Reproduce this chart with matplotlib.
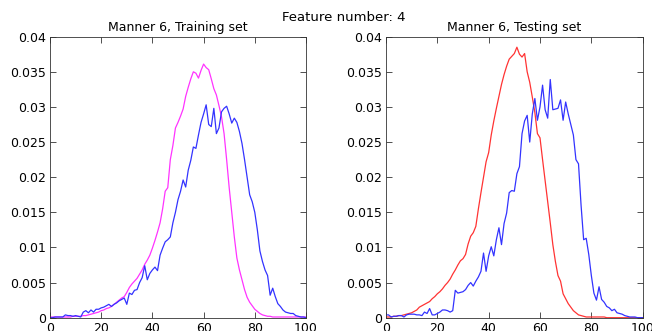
import numpy as np
import matplotlib
matplotlib.use("Agg")
import matplotlib.pyplot as plt

# histogram bins, 0..100
bins = np.arange(0, 101)

train_model = [
    0.0001, 0.0001, 0.0001, 0.0001, 0.0001, 0.0001, 0.0001, 0.0001, 0.0001, 0.0002,
    0.0002, 0.0002, 0.0002, 0.0003, 0.0003, 0.0004, 0.0005, 0.0006, 0.0007, 0.0008,
    0.0010, 0.0011, 0.0013, 0.0014, 0.0016, 0.0019, 0.0022, 0.0025, 0.0028, 0.0030,
    0.0036, 0.0043, 0.0048, 0.0052, 0.0056, 0.0062, 0.0068, 0.0076, 0.0082, 0.0089,
    0.0099, 0.0110, 0.0122, 0.0135, 0.0155, 0.0180, 0.0185, 0.0225, 0.0245, 0.0270,
    0.0278, 0.0287, 0.0297, 0.0315, 0.0328, 0.0340, 0.0350, 0.0348, 0.0341, 0.0352,
    0.0361, 0.0356, 0.0353, 0.0340, 0.0326, 0.0317, 0.0302, 0.0286, 0.0262, 0.0225,
    0.0185, 0.0150, 0.0115, 0.0085, 0.0068, 0.0054, 0.0040, 0.0029, 0.0022, 0.0017,
    0.0012, 0.0009, 0.0006, 0.0004, 0.0003, 0.0002, 0.0002, 0.0001, 0.0001, 0.0001,
    0.0001, 0.0001, 0.0001, 0.0001, 0.0001, 0.0001, 0.0001, 0.0001, 0.0001, 0.0001,
    0.0001,
]

train_data = [
    0.0000, 0.0000, 0.0001, 0.0001, 0.0001, 0.0001, 0.0004, 0.0003, 0.0003, 0.0002,
    0.0003, 0.0002, 0.0001, 0.0008, 0.0010, 0.0007, 0.0011, 0.0008, 0.0012, 0.0012,
    0.0014, 0.0015, 0.0017, 0.0019, 0.0016, 0.0019, 0.0021, 0.0024, 0.0026, 0.0028,
    0.0019, 0.0035, 0.0033, 0.0039, 0.0040, 0.0050, 0.0057, 0.0074, 0.0054, 0.0063,
    0.0068, 0.0072, 0.0067, 0.0089, 0.0099, 0.0108, 0.0111, 0.0115, 0.0135, 0.0150,
    0.0168, 0.0180, 0.0196, 0.0186, 0.0210, 0.0224, 0.0243, 0.0241, 0.0260, 0.0278,
    0.0290, 0.0303, 0.0275, 0.0272, 0.0298, 0.0262, 0.0270, 0.0293, 0.0298, 0.0301,
    0.0290, 0.0277, 0.0284, 0.0278, 0.0265, 0.0248, 0.0225, 0.0200, 0.0175, 0.0165,
    0.0150, 0.0125, 0.0095, 0.0080, 0.0068, 0.0060, 0.0032, 0.0042, 0.0030, 0.0020,
    0.0016, 0.0011, 0.0008, 0.0007, 0.0006, 0.0006, 0.0003, 0.0002, 0.0001, 0.0001,
    0.0000,
]

test_model = [
    0.0001, 0.0001, 0.0001, 0.0002, 0.0002, 0.0003, 0.0003, 0.0004, 0.0005, 0.0006,
    0.0007, 0.0009, 0.0011, 0.0015, 0.0017, 0.0019, 0.0021, 0.0023, 0.0027, 0.0030,
    0.0034, 0.0037, 0.0041, 0.0046, 0.0050, 0.0055, 0.0062, 0.0068, 0.0075, 0.0081,
    0.0084, 0.0090, 0.0105, 0.0116, 0.0121, 0.0130, 0.0155, 0.0178, 0.0200, 0.0222,
    0.0235, 0.0260, 0.0280, 0.0298, 0.0315, 0.0332, 0.0346, 0.0358, 0.0368, 0.0372,
    0.0376, 0.0385, 0.0375, 0.0371, 0.0376, 0.0350, 0.0335, 0.0314, 0.0292, 0.0262,
    0.0256, 0.0225, 0.0195, 0.0165, 0.0135, 0.0104, 0.0080, 0.0060, 0.0052, 0.0034,
    0.0027, 0.0020, 0.0015, 0.0010, 0.0007, 0.0004, 0.0003, 0.0002, 0.0001, 0.0001,
    0.0001, 0.0001, 0.0001, 0.0001, 0.0001, 0.0001, 0.0000, 0.0000, 0.0000, 0.0000,
    0.0000, 0.0000, 0.0000, 0.0000, 0.0000, 0.0000, 0.0000, 0.0000, 0.0000, 0.0000,
    0.0000,
]

test_data = [
    0.0004, 0.0004, 0.0001, 0.0002, 0.0002, 0.0003, 0.0003, 0.0001, 0.0004, 0.0005,
    0.0005, 0.0005, 0.0004, 0.0004, 0.0003, 0.0008, 0.0006, 0.0013, 0.0004, 0.0004,
    0.0006, 0.0008, 0.0011, 0.0011, 0.0010, 0.0008, 0.0010, 0.0039, 0.0035, 0.0036,
    0.0037, 0.0040, 0.0046, 0.0050, 0.0045, 0.0052, 0.0058, 0.0066, 0.0092, 0.0066,
    0.0088, 0.0101, 0.0088, 0.0111, 0.0128, 0.0104, 0.0134, 0.0149, 0.0178, 0.0181,
    0.0180, 0.0205, 0.0215, 0.0262, 0.0280, 0.0288, 0.0250, 0.0290, 0.0312, 0.0281,
    0.0300, 0.0331, 0.0296, 0.0284, 0.0339, 0.0296, 0.0297, 0.0298, 0.0310, 0.0281,
    0.0307, 0.0290, 0.0275, 0.0260, 0.0225, 0.0219, 0.0160, 0.0111, 0.0113, 0.0090,
    0.0060, 0.0035, 0.0025, 0.0044, 0.0026, 0.0022, 0.0016, 0.0014, 0.0010, 0.0012,
    0.0007, 0.0006, 0.0005, 0.0003, 0.0002, 0.0001, 0.0001, 0.0001, 0.0000, 0.0000,
    0.0000,
]

xticks = [0, 20, 40, 60, 80, 100]
yticks = [0, 0.005, 0.01, 0.015, 0.02, 0.025, 0.03, 0.035, 0.04]
ytick_labels = ["0", "0.005", "0.01", "0.015", "0.02", "0.025", "0.03", "0.035", "0.04"]

plt.rcParams['font.family'] = ['DejaVu Sans']
plt.rcParams['font.size'] = 9

fig = plt.figure(figsize=(6.52, 3.31), dpi=100)
ax1 = fig.add_axes([0.0767, 0.0402, 0.3926, 0.849])
ax2 = fig.add_axes([0.5920, 0.0402, 0.3937, 0.849])


def style(ax, title):
    ax.set_xlim(0, 100)
    ax.set_ylim(0, 0.04)
    ax.set_xticks(xticks)
    ax.set_yticks(yticks)
    ax.set_yticklabels(ytick_labels)
    ax.tick_params(direction='in', length=4, width=0.6, top=True, right=True,
                   labelsize=9, pad=3, color='#333333')
    for s in ax.spines.values():
        s.set_linewidth(0.6)
        s.set_color('#333333')
    ax.set_title(title, fontsize=9, pad=4)


ax1.plot(bins, train_model, color='#ff33ff', lw=0.9)
ax1.plot(bins, train_data, color='#3333ff', lw=0.9)
style(ax1, "Manner 6, Training set")

ax2.plot(bins, test_model, color='#ff3333', lw=0.9)
ax2.plot(bins, test_data, color='#3333ff', lw=0.9)
style(ax2, "Manner 6, Testing set")

fig.text(0.527, 0.946, "Feature number: 4", ha='center', va='center', fontsize=9.5)

fig.savefig("out.png", dpi=100)
